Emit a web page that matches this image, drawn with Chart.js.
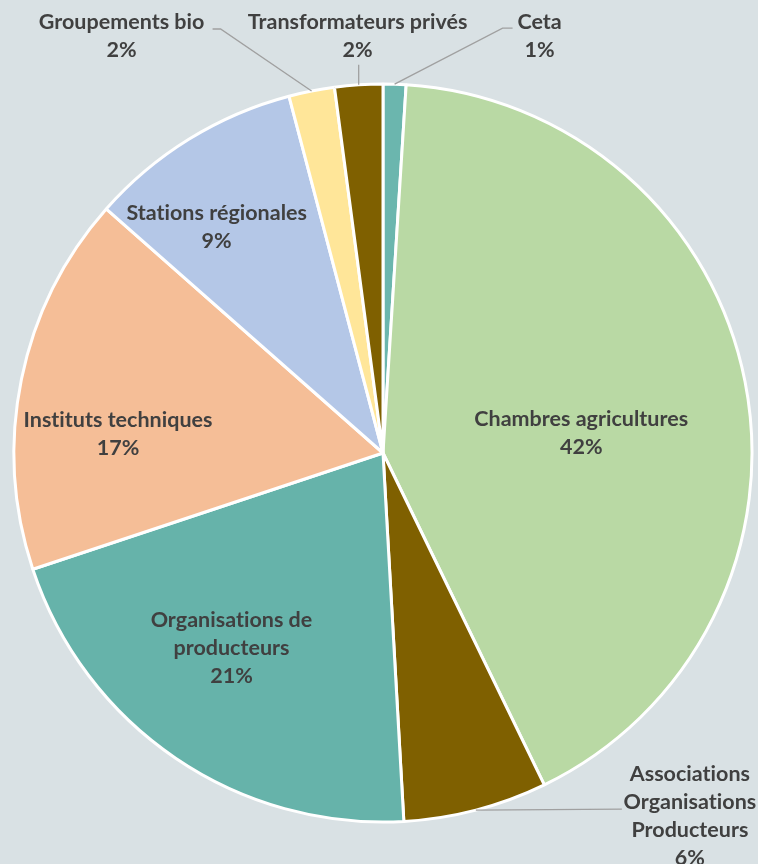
<!DOCTYPE html>
<html>
<head>
<meta charset="utf-8">
<script src="https://cdn.jsdelivr.net/npm/chart.js@4.4.0/dist/chart.umd.min.js"></script>
<style>
  html, body { margin: 0; padding: 0; background: #d9e1e4; }
  #wrap { width: 758px; height: 864px; }
</style>
</head>
<body>
<div id="wrap"><canvas id="pie"></canvas></div>
<script>
// data, clockwise from 12 o'clock
const labels = [
  ['Ceta'],
  ['Chambres agricultures'],
  ['Associations', 'Organisations', 'Producteurs'],
  ['Organisations de', 'producteurs'],
  ['Instituts techniques'],
  ['Stations régionales'],
  ['Groupements bio'],
  ['Transformateurs privés']
];
const shares = [1.0, 41.8, 6.3, 20.8, 16.6, 9.4, 2.0, 2.1];

const colors = ['#6bb6ae', '#b9d9a4', '#7f6000', '#66b3aa', '#f5be97', '#b4c7e7', '#ffe699', '#7f6000'];

// where each label goes, relative to its slice
// inside: polar (fraction of radius, angle shift in deg) from the slice middle
// outside: offsets from the outer middle point of the slice + leader line
const labelPlace = [
  { out: true, leader: [[108, -56], [118, -56]], text: [145, -48] },
  { r: 0.54, shift: 5.3 },
  { out: true, leader: [[146, -1]], text: [214, 6] },
  { r: 0.67, shift: 3.6 },
  { r: 0.72, shift: -7.4 },
  { r: 0.76, shift: -4.7 },
  { out: true, leader: [[-91, -62], [-99, -62]], text: [-190, -55] },
  { out: true, leader: [[0, -20]], text: [-1, -49] }
];

const lineH = 28;

const pieLabels = {
  id: 'pieLabels',
  afterDatasetsDraw(chart) {
    const ctx = chart.ctx;
    const meta = chart.getDatasetMeta(0);
    const total = shares.reduce((a, b) => a + b, 0);
    ctx.save();
    ctx.font = 'bold 21.5px Lato';
    ctx.letterSpacing = '0.01px'; // no "ti" ligature
    ctx.fillStyle = '#404040';
    ctx.textAlign = 'center';
    ctx.textBaseline = 'middle';
    meta.data.forEach((arc, i) => {
      const p = arc.getProps(['x', 'y', 'startAngle', 'endAngle', 'outerRadius'], true);
      const mid = (p.startAngle + p.endAngle) / 2;
      const place = labelPlace[i];
      let cx, cy;
      if (place.out) {
        const ex = p.x + Math.cos(mid) * p.outerRadius;
        const ey = p.y + Math.sin(mid) * p.outerRadius;
        ctx.strokeStyle = '#a0a0a0';
        ctx.lineWidth = 1.3;
        ctx.beginPath();
        ctx.moveTo(ex, ey);
        place.leader.forEach(pt => ctx.lineTo(ex + pt[0], ey + pt[1]));
        ctx.stroke();
        cx = ex + place.text[0];
        cy = ey + place.text[1];
      } else {
        const a = mid + place.shift * Math.PI / 180;
        cx = p.x + Math.cos(a) * p.outerRadius * place.r;
        cy = p.y + Math.sin(a) * p.outerRadius * place.r;
      }
      const lines = labels[i].concat([Math.round(shares[i] / total * 100) + '%']);
      const top = cy - (lines.length - 1) * lineH / 2;
      lines.forEach((t, k) => ctx.fillText(t, cx, top + k * lineH));
    });
    ctx.restore();
  }
};

const bgFill = {
  id: 'bgFill',
  beforeDraw(chart) {
    const ctx = chart.ctx;
    ctx.save();
    ctx.fillStyle = '#d9e1e4';
    ctx.fillRect(0, 0, chart.width, chart.height);
    ctx.restore();
  }
};

new Chart(document.getElementById('pie'), {
  type: 'pie',
  data: {
    labels: labels.map(l => l.join(' ')),
    datasets: [{
      data: shares,
      backgroundColor: colors,
      borderColor: '#ffffff',
      borderWidth: 3
    }]
  },
  options: {
    responsive: true,
    maintainAspectRatio: false,
    animation: false,
    radius: 369,
    layout: { padding: { left: 8, right: 0, top: 42, bottom: 0 } },
    plugins: {
      legend: { display: false },
      tooltip: { enabled: false }
    }
  },
  plugins: [bgFill, pieLabels]
});
</script>
</body>
</html>
